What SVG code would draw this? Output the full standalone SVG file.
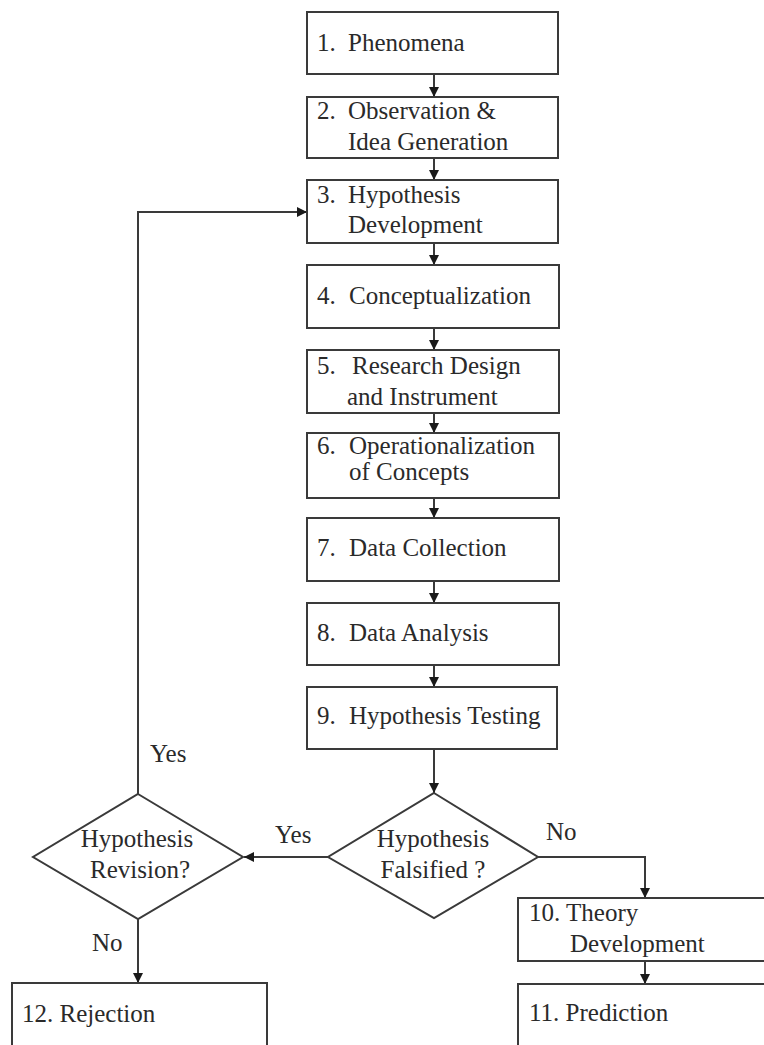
<svg xmlns="http://www.w3.org/2000/svg" width="764" height="1045" viewBox="0 0 764 1045">
<style>
.box{fill:#fff;stroke:#3a3a3a;stroke-width:2}
.dia{fill:#fff;stroke:#3a3a3a;stroke-width:2}
.ln{fill:none;stroke:#3a3a3a;stroke-width:2}
.t{font-family:'Liberation Serif','Times New Roman',Times,Tinos,'Noto Serif','DejaVu Serif','Nimbus Roman','FreeSerif',serif;font-size:25px;fill:#2a2a2a}
.c{text-anchor:middle}
</style>
<defs>
<marker id="ah" viewBox="0 0 10 10" refX="10" refY="5" markerWidth="10" markerHeight="10" markerUnits="userSpaceOnUse" orient="auto">
<path d="M0,0 L10,5 L0,10 z" fill="#1a1a1a"/>
</marker>
</defs>
<rect width="764" height="1045" fill="#fff"/>
<g id="connectors">
<line class="ln" x1="434" y1="74" x2="434" y2="97" marker-end="url(#ah)"/>
<line class="ln" x1="434" y1="158" x2="434" y2="180" marker-end="url(#ah)"/>
<line class="ln" x1="434" y1="243" x2="434" y2="265" marker-end="url(#ah)"/>
<line class="ln" x1="434" y1="328" x2="434" y2="350" marker-end="url(#ah)"/>
<line class="ln" x1="434" y1="413" x2="434" y2="433" marker-end="url(#ah)"/>
<line class="ln" x1="434" y1="498" x2="434" y2="518" marker-end="url(#ah)"/>
<line class="ln" x1="434" y1="581" x2="434" y2="603" marker-end="url(#ah)"/>
<line class="ln" x1="434" y1="665" x2="434" y2="687" marker-end="url(#ah)"/>
<line class="ln" x1="434" y1="749" x2="434" y2="793" marker-end="url(#ah)"/>
<line class="ln" x1="328" y1="857" x2="244" y2="857" marker-end="url(#ah)"/>
<polyline class="ln" points="538,857 645,857 645,898" marker-end="url(#ah)"/>
<line class="ln" x1="645" y1="961" x2="645" y2="984" marker-end="url(#ah)"/>
<polyline class="ln" points="138,794 138,212 307,212" marker-end="url(#ah)"/>
<line class="ln" x1="138" y1="919" x2="138" y2="983" marker-end="url(#ah)"/>
<text class="t" x="150" y="762">Yes</text>
<text class="t" x="275" y="843">Yes</text>
<text class="t" x="92" y="951">No</text>
<text class="t" x="546" y="840">No</text>
</g>
<g id="n1"><rect class="box" x="307" y="12" width="251" height="62"/><text class="t" x="317" y="51">1.</text><text class="t" x="348" y="51">Phenomena</text></g>
<g id="n2"><rect class="box" x="307" y="97" width="251" height="61"/><text class="t" x="317" y="119">2.</text><text class="t" x="348" y="119">Observation &amp;</text><text class="t" x="348" y="150">Idea Generation</text></g>
<g id="n3"><rect class="box" x="307" y="180" width="251" height="63"/><text class="t" x="317" y="203">3.</text><text class="t" x="348" y="203">Hypothesis</text><text class="t" x="348" y="233">Development</text></g>
<g id="n4"><rect class="box" x="307" y="265" width="252" height="63"/><text class="t" x="317" y="304">4.</text><text class="t" x="349" y="304">Conceptualization</text></g>
<g id="n5"><rect class="box" x="307" y="350" width="252" height="63"/><text class="t" x="317" y="374">5.</text><text class="t" x="352" y="374">Research Design</text><text class="t" x="347" y="405">and Instrument</text></g>
<g id="n6"><rect class="box" x="307" y="433" width="252" height="65"/><text class="t" x="317" y="454">6.</text><text class="t" x="349" y="454">Operationalization</text><text class="t" x="349" y="480">of Concepts</text></g>
<g id="n7"><rect class="box" x="307" y="518" width="252" height="63"/><text class="t" x="317" y="556">7.</text><text class="t" x="349" y="556">Data Collection</text></g>
<g id="n8"><rect class="box" x="307" y="603" width="252" height="62"/><text class="t" x="317" y="641">8.</text><text class="t" x="349" y="641">Data Analysis</text></g>
<g id="n9"><rect class="box" x="307" y="687" width="250" height="62"/><text class="t" x="317" y="724">9.</text><text class="t" x="349" y="724">Hypothesis Testing</text></g>
<g id="d1"><polygon class="dia" points="434,793 538,857 434,918 328,857"/><text class="t c" x="433" y="847">Hypothesis</text><text class="t c" x="433" y="878">Falsified ?</text></g>
<g id="d2"><polygon class="dia" points="138,794 243,857 138,919 33,857"/><text class="t c" x="137" y="847">Hypothesis</text><text class="t c" x="140" y="878">Revision?</text></g>
<g id="n10"><rect class="box" x="518" y="898" width="260" height="63"/><text class="t" x="529" y="921">10. Theory</text><text class="t" x="570" y="952">Development</text></g>
<g id="n11"><rect class="box" x="518" y="984" width="260" height="80"/><text class="t" x="529" y="1021">11. Prediction</text></g>
<g id="n12"><rect class="box" x="12" y="983" width="255" height="80"/><text class="t" x="22" y="1022">12. Rejection</text></g>
</svg>
